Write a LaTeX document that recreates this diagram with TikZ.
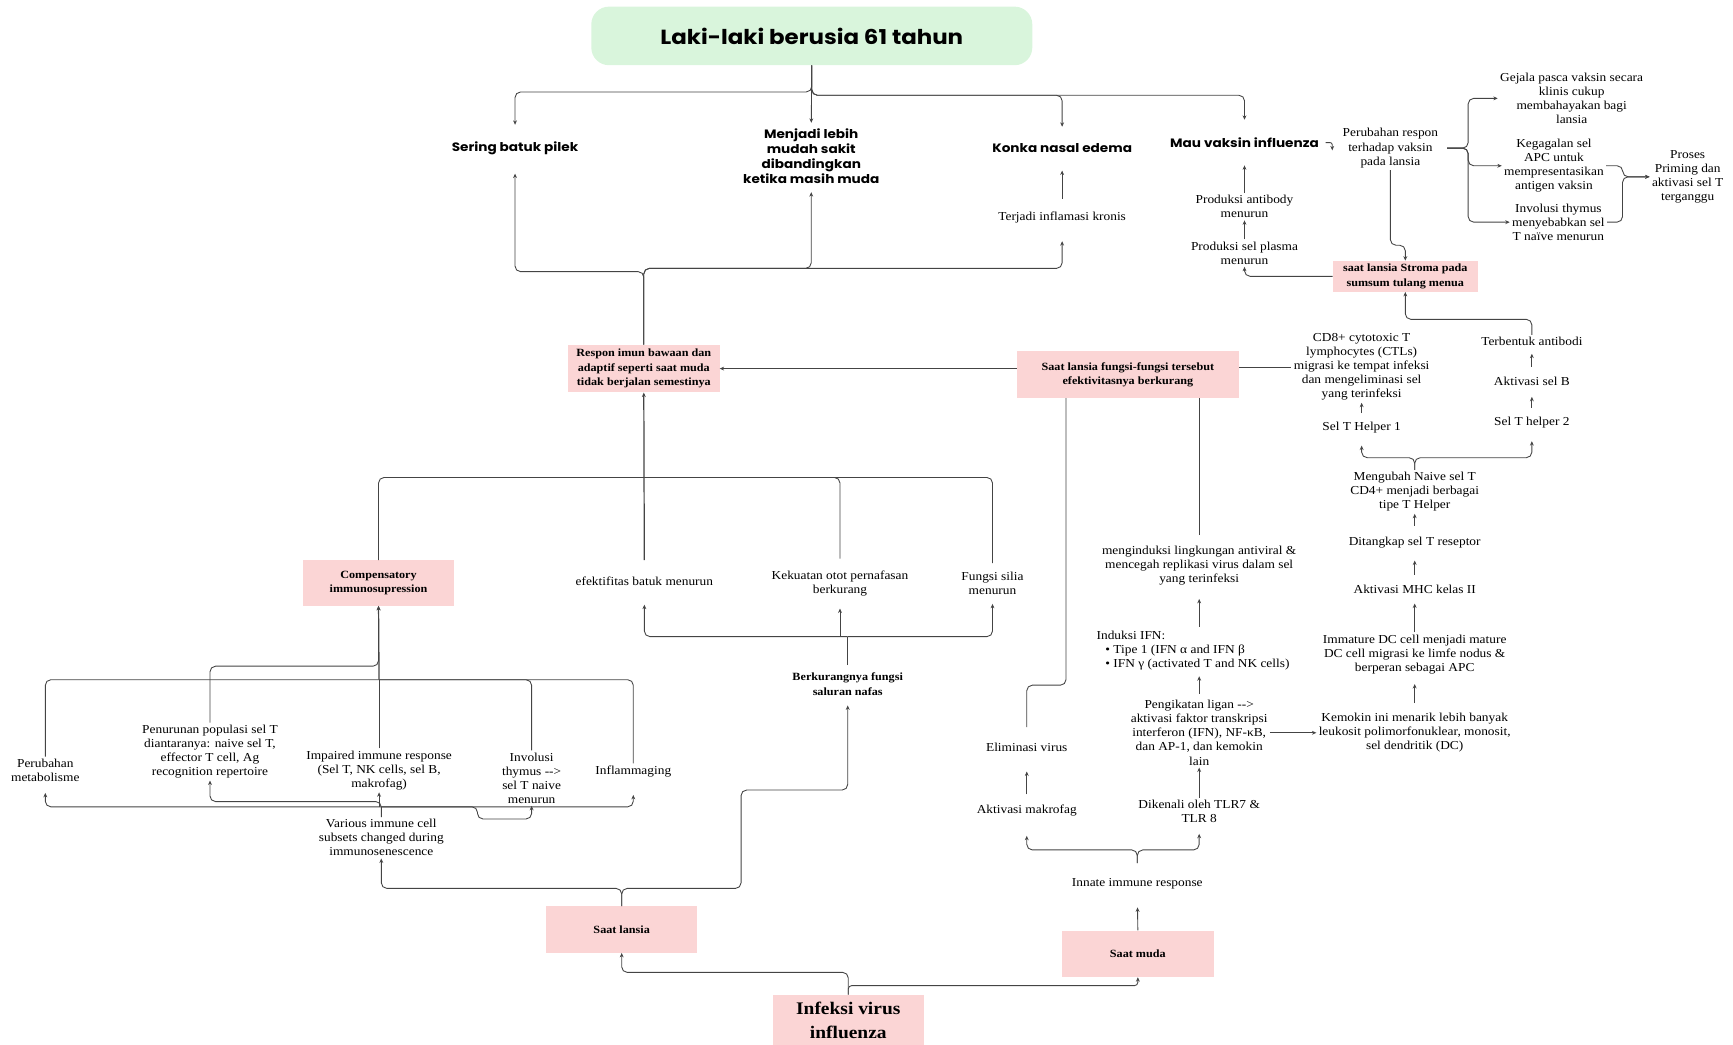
\documentclass[tikz,border=0pt]{standalone}
\usepackage{fontspec}
\setmainfont{Liberation Serif}[FakeStretch=1.1]
\newfontfamily\poppins{Poppins}[FakeStretch=1.12]
\usetikzlibrary{arrows.meta,positioning}

\definecolor{boxpink}{HTML}{FBD5D5}
\definecolor{titlegreen}{HTML}{D9F5DC}
\definecolor{linegray}{HTML}{444444}

\newcommand{\bodyfont}{\fontsize{11}{12.7}\selectfont}
\newcommand{\boxfont}{\fontsize{10}{13}\selectfont\bfseries}
\newcommand{\headfont}{\poppins\fontsize{11}{13.5}\selectfont\bfseries}

\begin{document}
\begin{tikzpicture}[
  x=1pt, y=-1pt,
  txt/.style={font=\bodyfont, align=center, inner sep=2pt},
  hd/.style={font=\headfont, align=center, inner sep=2pt},
  pinkbox/.style={fill=boxpink, minimum width=137pt, minimum height=42pt, inner sep=1pt, align=center, font=\boxfont},
  conn/.style={draw=linegray, line width=0.8pt, rounded corners=5pt},
  arr/.style={conn, -{Stealth[length=4pt, width=3.5pt]}}
]
\useasboundingbox (0,0) rectangle (1568,945);

% atas
\node[fill=titlegreen, rounded corners=16pt, minimum width=399pt, minimum height=53pt,
  font=\poppins\fontsize{18.5}{22}\selectfont\bfseries] (title) at (734.5,32.5) {Laki-laki berusia 61 tahun};
\node[hd] (sering) at (466,134) {Sering batuk pilek};
\node[hd] (menjadi) at (734,141) {Menjadi lebih\\mudah sakit\\dibandingkan\\ketika masih muda};
\node[hd] (konka) at (961,134) {Konka nasal edema};
\node[hd] (mau) at (1126,129) {Mau vaksin influenza};
\node[txt] (terjadi) at (961,197) {Terjadi inflamasi kronis};

% vaksin
\node[txt] (perubahan) at (1258,134) {Perubahan respon\\terhadap vaksin\\pada lansia};
\node[txt] (gejala) at (1422,89) {Gejala pasca vaksin secara\\klinis cukup\\membahayakan bagi\\lansia};
\node[txt] (kegagalan) at (1406,150) {Kegagalan sel\\APC untuk\\mempresentasikan\\antigen vaksin};
\node[txt] (thymusT) at (1410,201) {Involusi thymus\\menyebabkan sel\\T naïve menurun};
\node[txt] (proses) at (1527,160) {Proses\\Priming dan\\aktivasi sel T\\terganggu};
\node[pinkbox, minimum width=131pt, minimum height=28pt] (stroma) at (1271.5,250) {saat lansia Stroma pada\\sumsum tulang menua};
\node[txt] (plasma) at (1126,229) {Produksi sel plasma\\menurun};
\node[txt] (antibody) at (1126,187) {Produksi antibody\\menurun};

% tengah
\node[pinkbox, minimum height=43pt] (respon) at (582.5,333.5) {Respon imun bawaan dan\\adaptif seperti saat muda\\tidak berjalan semestinya};
\node[pinkbox, minimum width=201pt] (fungsi) at (1020.5,339) {Saat lansia fungsi-fungsi tersebut\\efektivitasnya berkurang};
\node[txt] (cd8) at (1232,332) {CD8+ cytotoxic T\\lymphocytes (CTLs)\\migrasi ke tempat infeksi\\dan mengeliminasi sel\\yang terinfeksi};
\node[txt] (th1) at (1232,387) {Sel T Helper 1};
\node[txt] (antibodi) at (1386,309) {Terbentuk antibodi};
\node[txt] (selB) at (1386,345) {Aktivasi sel B};
\node[txt] (th2) at (1386,382) {Sel T helper 2};
\node[txt] (naive) at (1280,445) {Mengubah Naive sel T\\CD4+ menjadi berbagai\\tipe T Helper};
\node[txt] (ditangkap) at (1280,491) {Ditangkap sel T reseptor};
\node[txt] (mhc) at (1280,533) {Aktivasi MHC kelas II};
\node[txt] (immature) at (1280,592) {Immature DC cell menjadi mature\\DC cell migrasi ke limfe nodus \&\\berperan sebagai APC};
\node[txt] (kemokin) at (1280,663) {Kemokin ini menarik lebih banyak\\leukosit polimorfonuklear, monosit,\\sel dendritik (DC)};
\node[txt] (ligan) at (1085,663) {Pengikatan ligan -{}->\\aktivasi faktor transkripsi\\interferon (IFN), NF-κB,\\dan AP-1, dan kemokin\\lain};
\node[txt, align=left, anchor=west] (induksi) at (990,589) {Induksi IFN:\\\hspace*{8pt}• Tipe 1 (IFN α and IFN β\\\hspace*{8pt}• IFN γ (activated T and NK cells)};
\node[txt] (antiviral) at (1085,512) {menginduksi lingkungan antiviral \&\\mencegah replikasi virus dalam sel\\yang terinfeksi};
\node[txt] (dikenali) at (1085,734) {Dikenali oleh TLR7 \&\\TLR 8};
\node[txt] (makrofag) at (929,733) {Aktivasi makrofag};
\node[txt] (eliminasi) at (929,676) {Eliminasi virus};
\node[txt] (innate) at (1029,800) {Innate immune response};
\node[pinkbox] (muda) at (1029.5,863) {Saat muda};
\node[pinkbox, minimum height=46pt, font=\fontsize{16}{21.5}\selectfont\bfseries] (infeksi) at (767.5,923) {Infeksi virus\\influenza};

% saluran nafas
\node[pinkbox] (lansia) at (562.5,841) {Saat lansia};
\node[txt, font=\boxfont] (saluran) at (767,619) {Berkurangnya fungsi\\saluran nafas};
\node[txt] (efektif) at (583,526) {efektifitas batuk menurun};
\node[txt] (otot) at (760,528) {Kekuatan otot pernafasan\\berkurang};
\node[txt] (silia) at (898,528) {Fungsi silia\\menurun};

% immunosenescence
\node[pinkbox, minimum height=41pt] (comp) at (342.5,527.5) {Compensatory\\immunosupression};
\node[txt] (metab) at (41,697) {Perubahan\\metabolisme};
\node[txt] (penurunan) at (190,680) {Penurunan populasi sel T\\diantaranya: naive sel T,\\effector T cell, Ag\\recognition repertoire};
\node[txt] (impaired) at (343,697) {Impaired immune response\\(Sel T, NK cells, sel B,\\makrofag)};
\node[txt] (involusi) at (481,704) {Involusi\\thymus -{}->\\sel T naive\\menurun};
\node[txt] (inflam) at (573,698) {Inflammaging};
\node[txt] (various) at (345,758) {Various immune cell\\subsets changed during\\immunosenescence};

\coordinate (hubR) at (583,432);
\coordinate (hubS) at (767,576);
\coordinate (hubC) at (343,615);
\coordinate (hubV) at (345,730);

% panah atas
\draw[arr, shorten >=13pt] (title.south) -- ++(0,24) -| (sering.north);
\draw[arr, shorten >=3pt] (title.south) -- (menjadi.north);
\draw[arr, shorten >=13pt] (title.south) -- ++(0,27) -| (konka.north);
\draw[arr, shorten >=14pt] (title.south) -- ++(0,27) -| (mau.north);
\draw[arr, shorten >=15pt] (respon.north) -- ++(0,-66) -| (sering.south);
\draw[arr, shorten >=6pt] (respon.north) -- ++(0,-69) -| (menjadi.south);
\draw[arr, shorten >=14pt] (respon.north) -- ++(0,-69) -| (terjadi.south);
\draw[arr, shorten <=10pt, shorten >=14pt] (terjadi.north) -- (konka.south);

% panah vaksin
\draw[arr, rounded corners=2pt] ([xshift=4pt]mau.east) -- ++(6,0) -- ++(0,7);
\draw[arr, shorten <=6pt] (perubahan.east) -- ++(25,0) |- (gejala.west);
\draw[arr, shorten <=6pt] (perubahan.east) -- ++(25,0) |- (kegagalan.west);
\draw[arr, shorten <=6pt] (perubahan.east) -- ++(25,0) |- (thymusT.west);
\draw[arr] (kegagalan.east) -- ++(15,0) |- (proses.west);
\draw[arr] (thymusT.east) -- ++(14,0) |- (proses.west);
\draw[arr] (perubahan.south) -- ++(0,68) -| (stroma.north);
\draw[arr] (stroma.west) -| (plasma.south);
\draw[arr] (plasma.north) -- (antibody.south);
\draw[arr, shorten >=14pt] (antibody.north) -- (mau.south);
\draw[arr] (antibodi.north) -- ++(0,-14) -| (stroma.south);
\draw[arr, shorten <=7pt, shorten >=5pt] (selB.north) -- (antibodi.south);
\draw[arr, shorten <=6pt, shorten >=8pt] (th2.north) -- (selB.south);
\draw[arr, shorten <=6pt] (th1.north) -- (cd8.south);

% panah fungsi
\draw[arr, line width=1.3pt] (respon.east -| fungsi.west) -- (respon.east);
\draw[conn] (cd8.west -| fungsi.east) -- (cd8.west);
\draw[arr, shorten >=9pt] (naive.north) -- ++(0,-11) -| (th1.south);
\draw[arr, shorten >=10pt] (naive.north) -- ++(0,-11) -| (th2.south);
\draw[arr, shorten <=8pt] (ditangkap.north) -- (naive.south);
\draw[arr, shorten <=7pt, shorten >=9pt] (mhc.north) -- (ditangkap.south);
\draw[arr, shorten >=7pt] (immature.north) -- (mhc.south);
\draw[arr, shorten <=7pt, shorten >=7pt] (kemokin.north) -- (immature.south);
\draw[arr] (ligan.east) -- (kemokin.west);
\draw[arr] (dikenali.north) -- (ligan.south);
\draw[arr, shorten <=4pt, shorten >=3pt] (ligan.north) -- (ligan.north |- induksi.south);
\draw[arr, shorten <=2pt, shorten >=10pt] (antiviral.south |- induksi.north) -- (antiviral.south);
\draw[conn, shorten <=8pt] (antiviral.north) -- (antiviral.north |- fungsi.south);
\draw[conn, shorten <=12pt] (eliminasi.north) -- ++(0,-50) -| ([xshift=-56pt]fungsi.south);
\draw[arr, shorten <=7pt, shorten >=16pt] (makrofag.north) -- (eliminasi.south);
\draw[arr, shorten <=12pt, shorten >=16pt] (innate.north) -- ++(0,-24) -| (makrofag.south);
\draw[arr, shorten <=12pt, shorten >=8pt] (innate.north) -- ++(0,-24) -| (dikenali.south);
\draw[arr, shorten >=14pt] (muda.north) -- (innate.south);
\draw[arr, rounded corners=3pt] (infeksi.north) -- ++(0,-8) -| (muda.south);
\draw[arr] (infeksi.north) -- ++(0,-20) -| (lansia.south);

% panah lansia
\draw[arr] (lansia.north) -- ++(0,-16) -| (various.south);
\draw[arr, shorten >=7pt] (lansia.north) -- ++(0,-16) -- ++(108,0) -- ++(0,-89) -| (saluran.south);
\draw[conn, line width=1.1pt, shorten <=5pt] (saluran.north) -- (hubS);
\draw[arr, shorten >=15pt] (hubS) -| (efektif.south);
\draw[arr, shorten >=6pt] (hubS) -| (silia.south);
\draw[arr, shorten >=9pt] (otot.south |- hubS) -- (otot.south);
\draw[arr, line width=1.1pt, shorten <=13pt] (efektif.north) -- (respon.south);
\draw[conn] (comp.north) |- (hubR);
\draw[conn, shorten <=9pt] (otot.north) |- (hubR);
\draw[conn, shorten <=6pt] (silia.north) |- (hubR);

% panah kompensasi
\draw[arr, line width=1.1pt] (hubC) -- (comp.south);
\draw[conn] (metab.north) |- (hubC);
\draw[conn] (impaired.north) -- (impaired.north |- hubC);
\draw[conn] (involusi.north) |- (hubC);
\draw[conn] (inflam.north) |- (hubC);
\draw[arr] (penurunan.north) -- ++(0,-51) -| (comp.south);
\draw[conn, line width=1.1pt] (various.north) -- (hubV);
\draw[arr, shorten >=8pt] (hubV) -| (metab.south);
\draw[arr, shorten >=14pt] (hubV) -| (inflam.south);
\draw[arr] (impaired.south |- hubV) -- (impaired.south);
\draw[arr] (various.north) -- ++(0,-14) -| (penurunan.south);
\draw[arr] (hubV) -- ++(87,0) -- ++(0,11) -| (involusi.south);
\end{tikzpicture}
\end{document}
